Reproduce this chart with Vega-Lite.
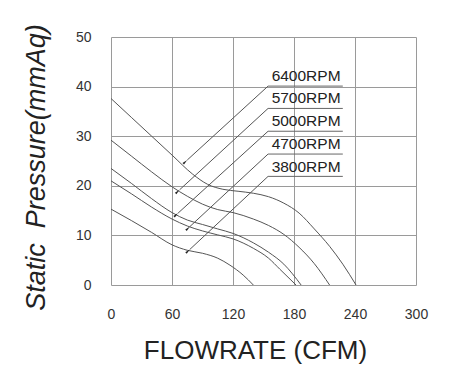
{
  "$schema": "https://vega.github.io/schema/vega-lite/v6.json",
  "width": 305,
  "height": 248,
  "autosize": "none",
  "padding": {"left": 111, "top": 37, "right": 37, "bottom": 92},
  "background": "white",
  "config": {
    "view": {"stroke": null},
    "font": "Liberation Sans",
    "axis": {
      "grid": true,
      "gridColor": "#9a9a9a",
      "gridOpacity": 1,
      "gridWidth": 1,
      "domain": false,
      "ticks": false,
      "labelFont": "Liberation Sans",
      "labelColor": "#333333",
      "labelFontSize": 14,
      "titleFont": "Liberation Sans",
      "titleColor": "#222222",
      "titleFontWeight": "normal"
    },
    "axisX": {
      "labelPadding": 22,
      "labelFlush": false,
      "labelOverlap": false,
      "titleFontSize": 26,
      "titleX": 144,
      "titleY": 73,
      "titleAlign": "center",
      "titleBaseline": "alphabetic"
    },
    "axisY": {
      "labelPadding": 20,
      "labelFlush": false,
      "labelOverlap": false,
      "titleFontSize": 27,
      "titleFontStyle": "italic",
      "titleAngle": -90,
      "titleX": -67,
      "titleY": 130,
      "titleAlign": "center",
      "titleBaseline": "alphabetic"
    }
  },
  "datasets": {
    "curves": [
      {"rpm": "6400RPM", "flow": 0, "pressure": 37.6},
      {"rpm": "6400RPM", "flow": 20, "pressure": 33.8},
      {"rpm": "6400RPM", "flow": 40, "pressure": 30.0},
      {"rpm": "6400RPM", "flow": 60, "pressure": 26.2},
      {"rpm": "6400RPM", "flow": 80, "pressure": 22.4},
      {"rpm": "6400RPM", "flow": 95, "pressure": 20.3},
      {"rpm": "6400RPM", "flow": 110, "pressure": 19.3},
      {"rpm": "6400RPM", "flow": 125, "pressure": 18.9},
      {"rpm": "6400RPM", "flow": 140, "pressure": 18.5},
      {"rpm": "6400RPM", "flow": 155, "pressure": 17.8},
      {"rpm": "6400RPM", "flow": 170, "pressure": 16.5},
      {"rpm": "6400RPM", "flow": 185, "pressure": 14.5},
      {"rpm": "6400RPM", "flow": 200, "pressure": 11.3},
      {"rpm": "6400RPM", "flow": 215, "pressure": 7.8},
      {"rpm": "6400RPM", "flow": 228, "pressure": 4.2},
      {"rpm": "6400RPM", "flow": 241, "pressure": 0},
      {"rpm": "5700RPM", "flow": 0, "pressure": 29.2},
      {"rpm": "5700RPM", "flow": 20, "pressure": 26.0},
      {"rpm": "5700RPM", "flow": 40, "pressure": 22.8},
      {"rpm": "5700RPM", "flow": 60, "pressure": 19.8},
      {"rpm": "5700RPM", "flow": 75, "pressure": 17.9},
      {"rpm": "5700RPM", "flow": 90, "pressure": 16.3},
      {"rpm": "5700RPM", "flow": 105, "pressure": 15.2},
      {"rpm": "5700RPM", "flow": 120, "pressure": 14.6},
      {"rpm": "5700RPM", "flow": 140, "pressure": 13.3},
      {"rpm": "5700RPM", "flow": 155, "pressure": 12.0},
      {"rpm": "5700RPM", "flow": 170, "pressure": 10.2},
      {"rpm": "5700RPM", "flow": 185, "pressure": 7.6},
      {"rpm": "5700RPM", "flow": 200, "pressure": 4.3},
      {"rpm": "5700RPM", "flow": 215, "pressure": 0},
      {"rpm": "5000RPM", "flow": 0, "pressure": 23.5},
      {"rpm": "5000RPM", "flow": 20, "pressure": 20.5},
      {"rpm": "5000RPM", "flow": 40, "pressure": 17.4},
      {"rpm": "5000RPM", "flow": 60, "pressure": 14.6},
      {"rpm": "5000RPM", "flow": 75, "pressure": 13.1},
      {"rpm": "5000RPM", "flow": 90, "pressure": 12.2},
      {"rpm": "5000RPM", "flow": 105, "pressure": 11.3},
      {"rpm": "5000RPM", "flow": 120, "pressure": 10.4},
      {"rpm": "5000RPM", "flow": 140, "pressure": 8.5},
      {"rpm": "5000RPM", "flow": 155, "pressure": 6.6},
      {"rpm": "5000RPM", "flow": 170, "pressure": 4.2},
      {"rpm": "5000RPM", "flow": 187, "pressure": 0},
      {"rpm": "4700RPM", "flow": 0, "pressure": 21.0},
      {"rpm": "4700RPM", "flow": 20, "pressure": 18.4},
      {"rpm": "4700RPM", "flow": 40, "pressure": 15.7},
      {"rpm": "4700RPM", "flow": 60, "pressure": 13.3},
      {"rpm": "4700RPM", "flow": 75, "pressure": 11.9},
      {"rpm": "4700RPM", "flow": 90, "pressure": 10.9},
      {"rpm": "4700RPM", "flow": 105, "pressure": 10.1},
      {"rpm": "4700RPM", "flow": 120, "pressure": 9.3},
      {"rpm": "4700RPM", "flow": 140, "pressure": 7.4},
      {"rpm": "4700RPM", "flow": 155, "pressure": 5.4},
      {"rpm": "4700RPM", "flow": 166, "pressure": 3.2},
      {"rpm": "4700RPM", "flow": 182, "pressure": 0},
      {"rpm": "3800RPM", "flow": 0, "pressure": 15.3},
      {"rpm": "3800RPM", "flow": 20, "pressure": 13.0},
      {"rpm": "3800RPM", "flow": 40, "pressure": 10.6},
      {"rpm": "3800RPM", "flow": 60, "pressure": 8.1},
      {"rpm": "3800RPM", "flow": 75, "pressure": 7.0},
      {"rpm": "3800RPM", "flow": 90, "pressure": 6.4},
      {"rpm": "3800RPM", "flow": 105, "pressure": 5.4},
      {"rpm": "3800RPM", "flow": 117, "pressure": 4.0},
      {"rpm": "3800RPM", "flow": 130, "pressure": 2.0},
      {"rpm": "3800RPM", "flow": 140, "pressure": 0}
    ],
    "labels": [
      {"rpm": "6400RPM", "flow": 158, "pressure": 41.2, "under": 40.1, "start": 154.5, "end": 228, "tipFlow": 75, "tipPressure": 25.2},
      {"rpm": "5700RPM", "flow": 158, "pressure": 36.6, "under": 35.6, "start": 154.5, "end": 228, "tipFlow": 67.5, "tipPressure": 19.2},
      {"rpm": "5000RPM", "flow": 158, "pressure": 32.0, "under": 31.0, "start": 154.5, "end": 228, "tipFlow": 66, "tipPressure": 14.5},
      {"rpm": "4700RPM", "flow": 158, "pressure": 27.4, "under": 26.4, "start": 154.5, "end": 228, "tipFlow": 77.7, "tipPressure": 11.8},
      {"rpm": "3800RPM", "flow": 158, "pressure": 22.8, "under": 21.9, "start": 154.5, "end": 228, "tipFlow": 77.7, "tipPressure": 7.2}
    ]
  },
  "layer": [
    {
      "data": {"name": "curves"},
      "mark": {"type": "line", "interpolate": "monotone", "color": "#555555", "strokeWidth": 1},
      "encoding": {
        "x": {"field": "flow", "type": "quantitative", "scale": {"domain": [0, 300], "nice": false}, "title": "FLOWRATE (CFM)", "axis": {"values": [0, 60, 120, 180, 240, 300]}},
        "y": {"field": "pressure", "type": "quantitative", "scale": {"domain": [0, 50], "nice": false}, "title": "Static\u00a0 Pressure(mmAq)", "axis": {"values": [0, 10, 20, 30, 40, 50]}},
        "detail": {"field": "rpm"}
      }
    },
    {
      "data": {"name": "labels"},
      "mark": {"type": "rule", "color": "#666666", "strokeWidth": 1},
      "encoding": {
        "x": {"field": "start", "type": "quantitative"},
        "x2": {"field": "end"},
        "y": {"field": "under", "type": "quantitative"}
      }
    },
    {
      "data": {"name": "labels"},
      "mark": {"type": "rule", "color": "#555555", "strokeWidth": 1},
      "encoding": {
        "x": {"field": "tipFlow", "type": "quantitative"},
        "x2": {"field": "start"},
        "y": {"field": "tipPressure", "type": "quantitative"},
        "y2": {"field": "under"}
      }
    },
    {
      "data": {"name": "labels"},
      "mark": {"type": "point", "shape": "M0,0L0.4,-2L-0.4,-2Z", "filled": true, "color": "#222222", "opacity": 1, "size": 30, "angle": 227},
      "encoding": {
        "x": {"field": "tipFlow", "type": "quantitative"},
        "y": {"field": "tipPressure", "type": "quantitative"}
      }
    },
    {
      "data": {"name": "labels"},
      "mark": {"type": "text", "align": "left", "baseline": "alphabetic", "fontSize": 15.5, "color": "#222222", "font": "Liberation Sans"},
      "encoding": {
        "x": {"field": "flow", "type": "quantitative"},
        "y": {"field": "pressure", "type": "quantitative"},
        "text": {"field": "rpm"}
      }
    }
  ]
}
